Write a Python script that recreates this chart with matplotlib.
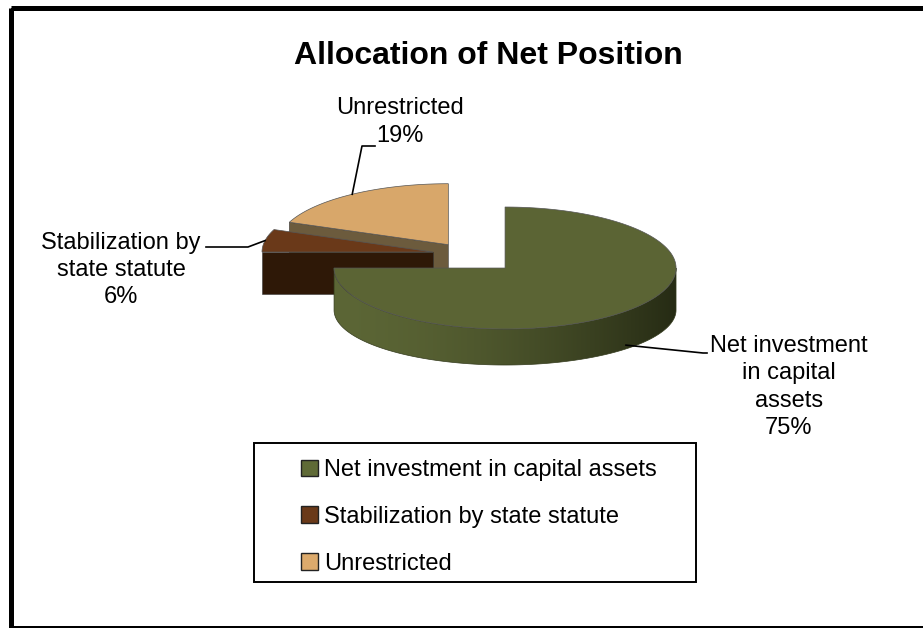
import numpy as np
import matplotlib.pyplot as plt
from matplotlib.patches import Polygon, Rectangle, Patch

plt.rcParams['font.family'] = ['Liberation Sans', 'DejaVu Sans']

# data
names = ["Net investment in capital assets", "Stabilization by state statute", "Unrestricted"]
callout_names = ["Net investment\nin capital\nassets", "Stabilization by\nstate statute", "Unrestricted"]
shares = [75, 6, 19]

top_colors = ["#5B6434", "#6A3919", "#D8A76A"]
side_colors = ["#4E572B", "#2E1807", "#6C5B3D"]
legend_colors = ["#5F6A36", "#6A3919", "#DCAA6C"]

# pie layout (pixel space, y pointing down)
cx0, cy0 = 466.6, 254.3
a, b = 171.0, 61.0
b_bot = 55.0
depth = 42.0
explode = [0.318, 0.20, 0.19]

# label layout
callout_xy = [(789, 387), (121, 270), (400, 122)]
callout_path = [[(703, 353), (707, 353)], [(248, 247), (206, 247)], [(362, 146), (375, 146)]]


def rim(cx, cy, th, bottom=False):
    if bottom:
        return cx + a * np.sin(th), cy + depth - b_bot * np.cos(th)
    return cx + a * np.sin(th), cy - b * np.cos(th)


fig = plt.figure(figsize=(9.23, 6.28), dpi=100)
ax = fig.add_axes([0, 0, 1, 1])
ax.axis('off')

fracs = np.array(shares) / sum(shares)
starts = np.concatenate([[0], np.cumsum(fracs)[:-1]]) * 2 * np.pi
ends = np.cumsum(fracs) * 2 * np.pi
mids = (starts + ends) / 2

centers = []
for i in range(len(shares)):
    dx = a * np.sin(mids[i]) * explode[i]
    dy = -b * np.cos(mids[i]) * explode[i]
    centers.append((cx0 + dx, cy0 + dy))

light = np.array([0.36, 0.40, 0.21])
dark = np.array([0.15, 0.17, 0.08])

z = 1
# back slices first, the big one last
for i in [2, 1, 0]:
    cx, cy = centers[i]
    t0, t1 = starts[i], ends[i]

    # outer wall, only the front half shows; shaded left to right
    w0, w1 = max(t0, np.pi / 2), min(t1, 3 * np.pi / 2)
    if w1 > w0:
        seg = np.linspace(w0, w1, 200)
        wall = [rim(cx, cy, t) for t in seg] + [rim(cx, cy, t, True) for t in seg[::-1]]
        wall_patch = Polygon(wall, closed=True, facecolor="none",
                             edgecolor="#333a1c", lw=0.5, zorder=z + 1)
        ax.add_patch(wall_patch)
        xs = np.linspace(cx - a, cx + a, 300)
        u = (xs - (cx - a)) / (2 * a)
        grad = light + (dark - light) * (u[:, None] ** 1.6)
        img = ax.imshow(grad[None, :, :], extent=(cx - a, cx + a, cy + depth + b_bot, cy - b),
                        aspect='auto', interpolation='bilinear', zorder=z)
        img.set_clip_path(wall_patch)
        z += 2

    # cut faces that turn toward the viewer
    for t, sign in ((t0, -1), (t1, 1)):
        nv = -sign * np.sin(t)
        if nv < -0.05:
            p_top = rim(cx, cy, t)
            p_bot = rim(cx, cy, t, True)
            ax.add_patch(Polygon([(cx, cy), p_top, p_bot, (cx, cy + depth)],
                                 closed=True, facecolor=side_colors[i],
                                 edgecolor="#3a3a3a", lw=0.4, zorder=z))
            z += 1

    ts = np.linspace(t0, t1, 200)
    pts = [(cx, cy)] + [rim(cx, cy, t) for t in ts]
    ax.add_patch(Polygon(pts, closed=True, facecolor=top_colors[i],
                         edgecolor="#555555", lw=0.5, zorder=z))
    z += 1

# callouts with leader lines
for i in range(len(shares)):
    cx, cy = centers[i]
    if i == 0:
        px, top_y = rim(cx, cy, mids[i])
        _, bot_y = rim(cx, cy, mids[i], True)
        py = top_y + 0.9 * (bot_y - top_y)
    else:
        px, py = rim(cx, cy, mids[i])
    lx = [px] + [p[0] for p in callout_path[i]]
    ly = [py] + [p[1] for p in callout_path[i]]
    ax.plot(lx, ly, color="black", lw=1.2, zorder=z)
    ax.text(callout_xy[i][0], callout_xy[i][1], f"{callout_names[i]}\n{shares[i]}%",
            ha="center", va="center", fontsize=17, linespacing=1.32, zorder=z)

ax.text(488, 56, "Allocation of Net Position", ha="center", va="center",
        fontsize=23, fontweight="bold")

# legend
ax.add_patch(Rectangle((254, 443), 442, 139, fill=False, edgecolor="black", lw=1.4))
handles = [Patch(facecolor=c, edgecolor="#222222", lw=1.0) for c in legend_colors]
ax.legend(handles, names, loc="center", bbox_to_anchor=(479 / 923, 1 - 517 / 628),
          frameon=False, fontsize=17, handlelength=0.7, handleheight=0.7,
          handletextpad=0.25, labelspacing=1.05)

# outer border
ax.add_patch(Rectangle((10.5, 7.5), 930, 620, fill=False, edgecolor="black",
                       lw=3.6, clip_on=False))

ax.set_xlim(0, 923)
ax.set_ylim(628, 0)
fig.savefig("out.png", dpi=100)
